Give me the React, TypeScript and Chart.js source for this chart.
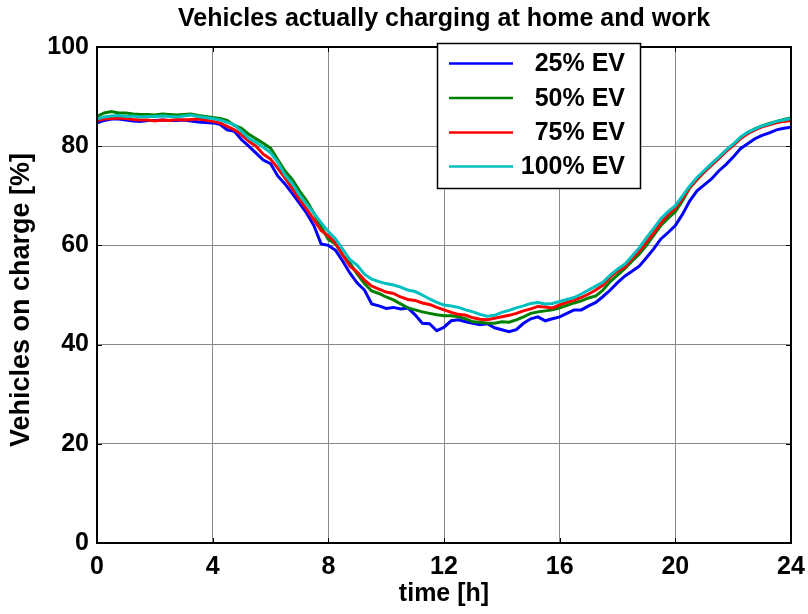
import React, { useEffect, useRef } from "react";
import { Chart, registerables } from "chart.js";

Chart.register(...registerables);

const TITLE = "Vehicles actually charging at home and work";
const X_LABEL = "time [h]";
const Y_LABEL = "Vehicles on charge [%]";

const STEP_H = 0.25; // sampling step of the series, hours
const X_TICKS = [0, 4, 8, 12, 16, 20, 24];
const Y_TICKS = [0, 20, 40, 60, 80, 100];

const SERIES_LABELS = ["25% EV", "50% EV", "75% EV", "100% EV"];
const SERIES_COLORS = ["#0000ff", "#008000", "#ff0000", "#00bfbf"];

const EV25 = [
  84.7, 85.2, 85.5, 85.5, 85.3, 85.1, 85.0, 85.2,
  85.2, 85.3, 85.2, 85.2, 85.3, 85.1, 84.9, 84.8,
  84.7, 84.4, 83.3, 83.0, 81.3, 80.0, 78.6, 77.2,
  76.5, 74.0, 72.4, 70.5, 68.5, 66.5, 64.0, 60.3,
  60.0, 59.0, 56.8, 54.4, 52.4, 51.0, 48.2, 47.8,
  47.3, 47.5, 47.2, 47.4, 46.0, 44.3, 44.2, 42.8,
  43.5, 44.8, 45.0, 44.6, 44.3, 44.0, 44.2, 43.4,
  43.0, 42.6, 43.0, 44.3, 45.2, 45.6, 44.8, 45.2,
  45.6, 46.3, 47.0, 47.0, 47.8, 48.5, 49.7, 51.0,
  52.5, 53.8, 54.8, 55.8, 57.5, 59.3, 61.3, 62.6,
  64.0, 66.3, 69.0, 71.0, 72.2, 73.4, 75.0, 76.3,
  77.8, 79.5, 80.5, 81.5, 82.2, 82.7, 83.3, 83.6,
  83.8,
];

const EV50 = [
  86.0, 86.7, 87.0, 86.7, 86.7, 86.5, 86.4, 86.4,
  86.3, 86.5, 86.4, 86.3, 86.4, 86.5, 86.2, 86.0,
  85.8, 85.6, 85.2, 84.2, 83.6, 82.4, 81.5, 80.6,
  79.6, 77.3, 75.0, 73.3, 71.0, 69.0, 66.5, 63.8,
  61.2, 60.3, 58.0, 56.4, 54.2, 52.3, 50.8, 50.3,
  49.6, 49.0, 48.2, 47.4, 47.0, 46.6, 46.3, 46.0,
  45.8, 45.8, 45.6, 45.2, 44.6, 44.5, 44.3, 44.3,
  44.6, 44.5, 45.0, 45.6, 46.3, 46.6, 46.8, 47.0,
  47.4, 47.9, 48.4, 48.8, 49.4, 49.8, 51.0, 52.7,
  54.0, 55.3, 56.8, 58.2, 60.0, 62.0, 64.0, 65.5,
  66.8, 69.0, 71.6, 73.3, 74.8, 76.2, 77.6, 79.0,
  80.3, 81.6, 82.7, 83.5, 84.1, 84.6, 85.0, 85.4,
  85.7,
];

const EV75 = [
  85.2, 85.5, 85.6, 85.7, 85.6, 85.4, 85.3, 85.3,
  85.1, 85.3, 85.2, 85.4, 85.3, 85.4, 85.5, 85.3,
  85.0, 84.7, 84.0, 83.3, 82.3, 81.0, 80.0, 78.4,
  77.4, 75.6, 73.6, 71.5, 69.3, 67.3, 65.2, 63.0,
  61.9, 60.5, 58.0, 55.8, 54.6, 53.0, 51.8, 51.2,
  50.6, 50.3, 49.6, 49.1, 48.9, 48.4, 48.1, 47.5,
  47.0, 46.5, 46.1, 45.9, 45.4, 45.1, 45.0, 45.3,
  45.6, 45.9, 46.3, 46.8, 47.2, 47.7, 47.6, 47.4,
  48.0, 48.5, 49.0, 49.5, 50.2, 51.0, 52.0, 53.6,
  54.8, 55.6, 57.3, 58.8, 60.6, 62.5, 64.5, 66.2,
  67.5, 69.5, 71.7, 73.3, 74.8, 76.2, 77.5, 78.9,
  80.1, 81.5, 82.5, 83.3, 83.9, 84.3, 84.7, 85.0,
  85.2,
];

const EV100 = [
  85.5, 85.9, 86.1, 86.2, 86.0, 86.1, 85.9, 86.0,
  86.0, 86.1, 86.0, 85.9, 86.1, 86.3, 86.0, 85.8,
  85.6, 85.3, 84.8, 84.3, 83.0, 81.6, 80.8, 79.8,
  78.7, 76.8, 74.2, 72.5, 70.2, 68.3, 66.5, 64.6,
  62.8, 61.3, 59.2, 57.1, 56.0, 54.2, 53.2, 52.7,
  52.3, 52.0, 51.6, 51.0, 50.7, 50.0, 49.2, 48.5,
  48.0, 47.8, 47.5, 47.0, 46.6, 46.1, 45.7, 45.9,
  46.5, 46.9, 47.4, 47.8, 48.3, 48.5, 48.2, 48.3,
  48.7, 49.1, 49.5, 50.2, 51.0, 51.8, 52.6, 54.0,
  55.2, 56.2, 57.8, 59.5, 61.5, 63.4, 65.4, 66.8,
  68.0, 70.0, 72.0, 73.7, 75.1, 76.5, 77.8, 79.2,
  80.4, 81.8, 82.8, 83.5, 84.1, 84.5, 85.0, 85.3,
  85.6,
];

const SERIES = [EV25, EV50, EV75, EV100];

const FONT = "'Liberation Sans', Arial, Helvetica, sans-serif";

const toPoints = (vals: number[]) => vals.map((y, i) => ({ x: i * STEP_H, y }));

const framePlugin = {
  id: "matlabFrame",
  afterDatasetsDraw(chart: any) {
    const { ctx, chartArea: a, scales } = chart;
    ctx.save();
    ctx.strokeStyle = "#000";
    ctx.lineWidth = 1;
    const tl = 5;
    ctx.beginPath();
    X_TICKS.forEach((v) => {
      const x = Math.round(scales.x.getPixelForValue(v)) + 0.5;
      ctx.moveTo(x, a.bottom);
      ctx.lineTo(x, a.bottom - tl);
      ctx.moveTo(x, a.top);
      ctx.lineTo(x, a.top + tl);
    });
    Y_TICKS.forEach((v) => {
      const y = Math.round(scales.y.getPixelForValue(v)) + 0.5;
      ctx.moveTo(a.left, y);
      ctx.lineTo(a.left + tl, y);
      ctx.moveTo(a.right, y);
      ctx.lineTo(a.right - tl, y);
    });
    ctx.stroke();
    ctx.lineWidth = 2;
    ctx.strokeRect(a.left, a.top, a.right - a.left, a.bottom - a.top);
    ctx.restore();
  },
  afterDraw(chart: any) {
    const { ctx } = chart;
    // y-axis title
    ctx.save();
    ctx.translate(22, 300);
    ctx.rotate(-Math.PI / 2);
    ctx.fillStyle = "#000";
    ctx.font = `bold 27px ${FONT}`;
    ctx.textAlign = "center";
    ctx.textBaseline = "middle";
    ctx.fillText(Y_LABEL, 0, 0);
    ctx.restore();

    // legend
    const box = { x: 437, y: 43, w: 203, h: 145 };
    ctx.save();
    ctx.fillStyle = "#fff";
    ctx.fillRect(box.x, box.y, box.w, box.h);
    ctx.strokeStyle = "#000";
    ctx.lineWidth = 1.5;
    ctx.strokeRect(box.x + 0.5, box.y + 0.5, box.w, box.h);
    const rows = [63.5, 98, 132.5, 166.5];
    chart.data.datasets.forEach((ds: any, i: number) => {
      const y = rows[i];
      ctx.strokeStyle = ds.borderColor;
      ctx.lineWidth = 2.5;
      ctx.beginPath();
      ctx.moveTo(449, y);
      ctx.lineTo(513, y);
      ctx.stroke();
      ctx.fillStyle = "#000";
      ctx.font = `bold 25px ${FONT}`;
      ctx.textAlign = "right";
      ctx.textBaseline = "middle";
      ctx.fillText(ds.label, 625, y + 1);
    });
    ctx.restore();
  },
};

export default function App() {
  const ref = useRef<HTMLCanvasElement | null>(null);

  useEffect(() => {
    document.body.style.margin = "0";
    const canvas = ref.current;
    if (!canvas) return;
    const datasets = SERIES.map((vals, i) => ({
      label: SERIES_LABELS[i],
      data: toPoints(vals),
      borderColor: SERIES_COLORS[i],
      backgroundColor: SERIES_COLORS[i],
      borderWidth: 3,
      pointRadius: 0,
      tension: 0,
      fill: false,
      order: SERIES.length - 1 - i,
    }));

    const chart = new Chart(canvas, {
      type: "line",
      data: { datasets },
      options: {
        responsive: false,
        animation: false,
        devicePixelRatio: 1,
        layout: { padding: { left: 0, right: 17, top: 0, bottom: 0 } },
        plugins: {
          legend: { display: false },
          tooltip: { enabled: false },
          title: {
            display: true,
            text: TITLE,
            fullSize: false,
            color: "#000",
            font: { family: FONT, size: 25, weight: "bold", lineHeight: 1.2 },
            padding: { top: 4.5, bottom: 12.5 },
          },
        },
        scales: {
          x: {
            type: "linear",
            min: 0,
            max: 24,
            afterBuildTicks: (s: any) => {
              s.ticks = X_TICKS.map((v) => ({ value: v }));
            },
            afterFit: (s: any) => {
              s.height = 71;
              s.paddingLeft = 0;
              s.paddingRight = 0;
            },
            grid: { color: "#8a8a8a", lineWidth: 1, drawTicks: false },
            border: { display: false },
            ticks: {
              color: "#000",
              padding: 9,
              maxRotation: 0,
              autoSkip: false,
              font: { family: FONT, size: 25, weight: "bold" },
            },
            title: {
              display: true,
              text: X_LABEL,
              color: "#000",
              font: { family: FONT, size: 25, weight: "bold", lineHeight: 1.2 },
              padding: { top: 0, bottom: 5 },
            },
          },
          y: {
            type: "linear",
            min: 0,
            max: 100,
            afterBuildTicks: (s: any) => {
              s.ticks = Y_TICKS.map((v) => ({ value: v }));
            },
            afterFit: (s: any) => {
              s.width = 97;
              s.paddingTop = 0;
              s.paddingBottom = 0;
            },
            grid: { color: "#8a8a8a", lineWidth: 1, drawTicks: false },
            border: { display: false },
            ticks: {
              color: "#000",
              padding: 8,
              autoSkip: false,
              font: { family: FONT, size: 25, weight: "bold" },
            },
            title: { display: false },
          },
        },
      },
      plugins: [framePlugin],
    });
    return () => chart.destroy();
  }, []);

  return (
    <div style={{ position: "absolute", left: 0, top: 0, width: 808, height: 614, background: "#fff" }}>
      <canvas ref={ref} width={808} height={614} />
    </div>
  );
}
